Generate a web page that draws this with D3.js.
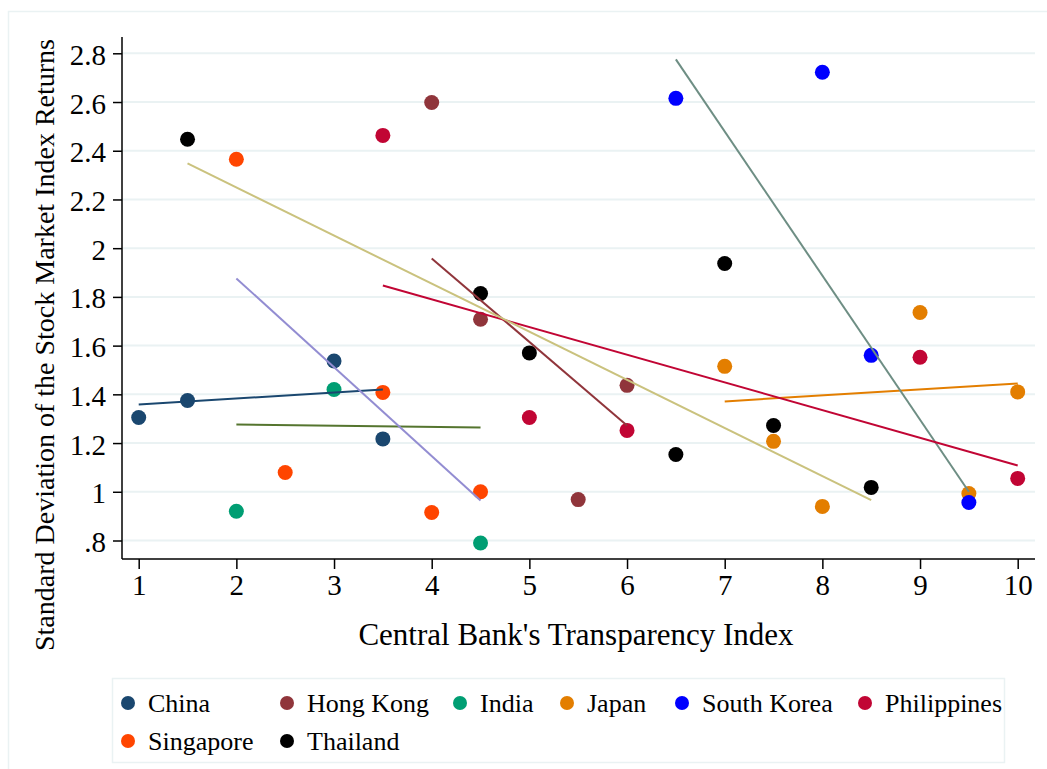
<!DOCTYPE html>
<html>
<head>
<meta charset="utf-8">
<script src="https://cdn.jsdelivr.net/npm/d3@7"></script>
<style>
  html, body { margin: 0; padding: 0; background: #fff; }
  svg { display: block; font-family: "Liberation Serif", "Times New Roman", serif; }
</style>
</head>
<body>
<svg id="chart" width="1047" height="769"></svg>
<script>
// Countries, in legend order
const countries = ["China", "Hong Kong", "India", "Japan", "South Korea", "Philippines", "Singapore", "Thailand"];

// Transparency index (x) and std. dev. of stock returns (y) per country
const chinaX = [1, 1.5, 3, 3.5];
const chinaY = [1.305, 1.375, 1.537, 1.217];
const hongKongX = [4, 4.5, 5.5, 6];
const hongKongY = [2.598, 1.708, 0.968, 1.437];
const indiaX = [2, 3, 4.5];
const indiaY = [0.92, 1.42, 0.79];
const japanX = [7, 7.5, 8, 9, 9.5, 10];
const japanY = [1.515, 1.207, 0.94, 1.736, 0.993, 1.41];
const koreaX = [6.5, 8, 8.5, 9.5];
const koreaY = [2.615, 2.722, 1.56, 0.956];
const philippinesX = [3.5, 5, 6, 9, 10];
const philippinesY = [2.463, 1.305, 1.252, 1.552, 1.055];
const singaporeX = [2, 2.5, 3.5, 4, 4.5];
const singaporeY = [2.365, 1.079, 1.408, 0.915, 1.0];
const thailandX = [1.5, 4.5, 5, 6.5, 7, 7.5, 8.5];
const thailandY = [2.447, 1.814, 1.57, 1.153, 1.937, 1.272, 1.018];

// Fitted-line endpoints per country: [x0, x1] and [y0, y1]
const chinaFitX = [1, 3.5], chinaFitY = [1.358, 1.42];
const hongKongFitX = [4, 6], hongKongFitY = [1.958, 1.272];
const indiaFitX = [2, 4.5], indiaFitY = [1.276, 1.264];
const japanFitX = [7, 10], japanFitY = [1.371, 1.445];
const koreaFitX = [6.5, 9.5], koreaFitY = [2.775, 1.0];
const philippinesFitX = [3.5, 10], philippinesFitY = [1.847, 1.108];
const singaporeFitX = [2, 4.5], singaporeFitY = [1.876, 0.964];
const thailandFitX = [1.5, 8.5], thailandFitY = [2.348, 0.966];

// Axis ticks
const xTicks = [1, 2, 3, 4, 5, 6, 7, 8, 9, 10];
const yTicks = [0.8, 1, 1.2, 1.4, 1.6, 1.8, 2, 2.2, 2.4, 2.6, 2.8];
const yTickLabels = [".8", "1", "1.2", "1.4", "1.6", "1.8", "2", "2.2", "2.4", "2.6", "2.8"];

// Colours
const markerColors = ["#1a476f", "#90353b", "#009e73", "#e37e00", "#0000ff", "#c10534", "#ff4500", "#000000"];
const lineColors = ["#1a476f", "#90353b", "#55752f", "#e37e00", "#6e8e84", "#c10534", "#938dd2", "#cac27e"];

const pointsX = [chinaX, hongKongX, indiaX, japanX, koreaX, philippinesX, singaporeX, thailandX];
const pointsY = [chinaY, hongKongY, indiaY, japanY, koreaY, philippinesY, singaporeY, thailandY];
const fitsX = [chinaFitX, hongKongFitX, indiaFitX, japanFitX, koreaFitX, philippinesFitX, singaporeFitX, thailandFitX];
const fitsY = [chinaFitY, hongKongFitY, indiaFitY, japanFitY, koreaFitY, philippinesFitY, singaporeFitY, thailandFitY];

const series = countries.map((name, i) => ({
  name,
  marker: markerColors[i],
  line: lineColors[i],
  points: pointsX[i].map((x, j) => ({ x, y: pointsY[i][j] })),
  fit: fitsX[i].map((x, j) => ({ x, y: fitsY[i][j] }))
}));

const svg = d3.select("#chart");
const gridColor = "#eaf2f3";

// Outer graph frame
svg.append("rect")
  .attr("x", 8.5).attr("y", 11.5)
  .attr("width", 1060).attr("height", 780)
  .attr("fill", "#fff").attr("stroke", gridColor).attr("stroke-width", 1.5);

const plotLeft = 122, plotRight = 1035, plotTop = 37, plotBottom = 559;

const x = d3.scaleLinear().domain([1, 10]).range([138.7, 1017.7]);
const y = d3.scaleLinear().domain([0.8, 2.8]).range([540.5, 53.3]);

// Horizontal gridlines
svg.append("g")
  .selectAll("line")
  .data(yTicks)
  .join("line")
  .attr("x1", plotLeft).attr("x2", plotRight)
  .attr("y1", d => y(d)).attr("y2", d => y(d))
  .attr("stroke", gridColor).attr("stroke-width", 2);

// Y axis
const yAxis = d3.axisLeft(y)
  .tickValues(yTicks)
  .tickFormat((d, i) => yTickLabels[i])
  .tickSize(9)
  .tickPadding(7);
const gy = svg.append("g").attr("transform", `translate(${plotLeft},0)`).call(yAxis);
gy.select(".domain").attr("d", `M0,${plotTop}V${plotBottom}`).attr("stroke", "#000").attr("stroke-width", 1.5);
gy.selectAll(".tick line").attr("stroke", "#000").attr("stroke-width", 1.5);
gy.selectAll(".tick text")
  .attr("font-family", "Liberation Serif, serif")
  .attr("font-size", 29).attr("fill", "#000")
  .attr("dy", "0.38em");

// X axis
const xAxis = d3.axisBottom(x)
  .tickValues(xTicks)
  .tickFormat(d3.format("d"))
  .tickSize(10)
  .tickPadding(5);
const gx = svg.append("g").attr("transform", `translate(0,${plotBottom})`).call(xAxis);
gx.select(".domain").attr("d", `M${plotLeft},0H${plotRight}`).attr("stroke", "#000").attr("stroke-width", 1.5);
gx.selectAll(".tick line").attr("stroke", "#000").attr("stroke-width", 1.5);
gx.selectAll(".tick text")
  .attr("font-family", "Liberation Serif, serif")
  .attr("font-size", 29).attr("fill", "#000");

// Axis titles
svg.append("text")
  .attr("x", 576).attr("y", 645)
  .attr("text-anchor", "middle")
  .attr("font-size", 31).attr("fill", "#000")
  .text("Central Bank's Transparency Index");

svg.append("text")
  .attr("transform", "translate(54,345) rotate(-90)")
  .attr("text-anchor", "middle")
  .attr("font-size", 28).attr("fill", "#000")
  .text("Standard Deviation of the Stock Market Index Returns");

// Scatter points
const pts = svg.append("g");
series.forEach(s => {
  pts.append("g")
    .selectAll("circle")
    .data(s.points)
    .join("circle")
    .attr("cx", d => x(d.x)).attr("cy", d => y(d.y))
    .attr("r", 7.5)
    .attr("fill", s.marker);
});

// Fitted lines, drawn on top of the points
const line = d3.line().x(d => x(d.x)).y(d => y(d.y));
svg.append("g")
  .selectAll("path")
  .data(series)
  .join("path")
  .attr("d", s => line(s.fit))
  .attr("fill", "none")
  .attr("stroke", s => s.line)
  .attr("stroke-width", 2);

// Legend
const legend = svg.append("g");
legend.append("rect")
  .attr("x", 112.5).attr("y", 678.5)
  .attr("width", 892).attr("height", 84)
  .attr("fill", "#fff").attr("stroke", gridColor).attr("stroke-width", 1.5);

const legendMarkerX = [128, 287, 460, 567, 682, 865, 128, 287];
const legendRowY = [703, 741];
const legendRow = [0, 0, 0, 0, 0, 0, 1, 1];
const items = legend.selectAll("g.item")
  .data(series)
  .join("g")
  .attr("class", "item")
  .attr("transform", (d, i) => `translate(${legendMarkerX[i]},${legendRowY[legendRow[i]]})`);
items.append("circle").attr("r", 7).attr("fill", d => d.marker);
items.append("text")
  .attr("x", 20).attr("y", 9)
  .attr("font-size", 26).attr("fill", "#000")
  .text(d => d.name);
</script>
</body>
</html>
